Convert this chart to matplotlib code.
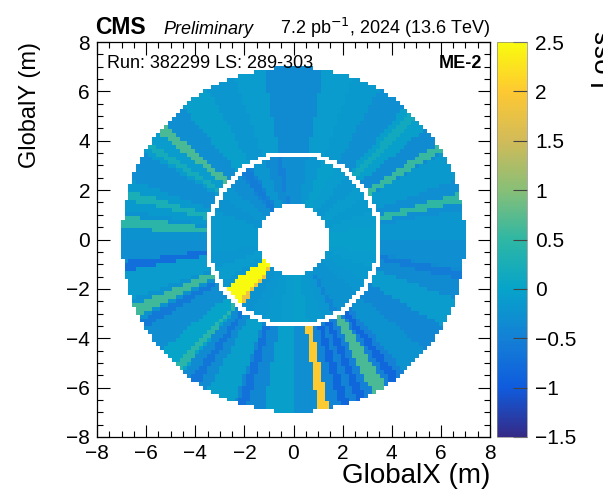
import numpy as np
import matplotlib
matplotlib.use("Agg")
import matplotlib.pyplot as plt
from matplotlib.colors import LinearSegmentedColormap
from matplotlib.ticker import MultipleLocator, FuncFormatter

plt.rcParams['font.family'] = ['Liberation Sans', 'DejaVu Sans']

# ROOT kBird palette
bird_stops = [0.0, 0.125, 0.25, 0.375, 0.5, 0.625, 0.75, 0.875, 1.0]
bird_r = [0.2082, 0.0592, 0.0780, 0.0232, 0.1802, 0.5301, 0.8186, 0.9956, 0.9764]
bird_g = [0.1664, 0.3599, 0.5041, 0.6419, 0.7178, 0.7492, 0.7328, 0.7862, 0.9832]
bird_b = [0.5293, 0.8684, 0.8385, 0.7914, 0.6425, 0.4662, 0.3499, 0.1968, 0.0539]
kbird = LinearSegmentedColormap.from_list(
    "kbird", list(zip(bird_stops, zip(bird_r, bird_g, bird_b))))

# station geometry (m)
r_hole = 1.45
r_split = 3.5
r_outer = 7.0

# loss per 10 deg phi sector, starting at phi = 0
outer_base = [-0.2, -0.3, -0.15, -0.35, -0.05, -0.3, -0.15, -0.1, -0.35,
              -0.35, -0.1, -0.2, -0.05, -0.3, -0.1, -0.3, -0.15, -0.25,
              -0.3, -0.1, -0.25, -0.3, 0.0, -0.35, -0.05, -0.4, -0.05,
              -0.3, -0.45, -0.5, -0.5, -0.25, -0.4, -0.1, -0.35, -0.3]
inner_base = [-0.05, -0.1, -0.15, -0.1, -0.2, -0.1, -0.05, -0.2, -0.3,
              -0.3, -0.35, -0.2, -0.45, -0.3, -0.2, -0.25, -0.15, -0.15,
              -0.15, -0.2, -0.1, -0.2, -0.2, -0.25, -0.2, -0.15, -0.1,
              -0.05, -0.15, -0.2, -0.25, -0.25, -0.2, -0.15, -0.1, -0.05]

# narrow strips on top of the sector level: centre phi, width (deg), loss
outer_strip_phi = [14, 32, 46, 140, 147, 165, 174, 189, 204, 209, 228,
                   235, 253, 280, 287, 293, 300, 306, 348]
outer_strip_width = [3, 3, 3, 3.5, 2.5, 3, 4, 3, 4, 3, 2.5,
                     3, 3, 3.5, 3, 3, 5, 3, 3]
outer_strip_loss = [0.5, 0.55, 0.15, 0.65, 0.2, 0.25, 0.45, -0.75, 0.6, -0.6, 0.45,
                    -0.65, -0.7, 2.0, -0.85, -0.85, 0.65, -0.85, -0.55]
inner_strip_phi = [222, 230.5, 125, 100, 300]
inner_strip_width = [14, 3, 6, 4, 4]
inner_strip_loss = [2.5, 1.8, -0.55, -0.5, -0.45]

# 100 x 100 binning over the transverse plane
edges = np.linspace(-8, 8, 101)
xc = 0.5 * (edges[:-1] + edges[1:])
X, Y = np.meshgrid(xc, xc)
r = np.hypot(X, Y)
phi = np.degrees(np.arctan2(Y, X)) % 360

XL, YL = np.meshgrid(edges[:-1], edges[:-1])
XH, YH = np.meshgrid(edges[1:], edges[1:])
corners = np.stack([np.hypot(XL, YL), np.hypot(XH, YL),
                    np.hypot(XL, YH), np.hypot(XH, YH)])
in_gap = (corners.min(axis=0) < r_split) & (corners.max(axis=0) > r_split)


def fill_ring(base, s_phi, s_width, s_loss):
    z = np.array(base)[(phi // 10).astype(int)]
    for p, w, v in zip(s_phi, s_width, s_loss):
        d = np.abs((phi - p + 180) % 360 - 180)
        z = np.where(d < w / 2, v, z)
    return z


z_in = fill_ring(inner_base, inner_strip_phi, inner_strip_width, inner_strip_loss)
z_out = fill_ring(outer_base, outer_strip_phi, outer_strip_width, outer_strip_loss)
Z = np.where(r < r_split, z_in, z_out)
Z = np.ma.masked_where((r < r_hole) | (r > r_outer) | in_gap, Z)

fig = plt.figure(figsize=(6.03, 4.96), dpi=100)
ax = fig.add_axes([97 / 603, 59 / 496, 393 / 603, 395 / 496])
cax = fig.add_axes([497 / 603, 59 / 496, 30 / 603, 395 / 496])

mesh = ax.pcolormesh(edges, edges, Z, cmap=kbird, vmin=-1.5, vmax=2.5)
ax.set_xlim(-8, 8)
ax.set_ylim(-8, 8)
ax.xaxis.set_major_locator(MultipleLocator(2))
ax.yaxis.set_major_locator(MultipleLocator(2))
ax.xaxis.set_minor_locator(MultipleLocator(0.5))
ax.yaxis.set_minor_locator(MultipleLocator(0.5))
ax.tick_params(which='both', direction='in', top=True, right=True,
               labelsize=15, width=0.8, pad=5)
ax.tick_params(which='major', length=9)
ax.tick_params(which='minor', length=4.5)
for s in ax.spines.values():
    s.set_linewidth(0.9)

ax.set_xlabel("GlobalX (m)", fontsize=20, loc='right', labelpad=0)
ax.set_ylabel("GlobalY (m)", fontsize=17, loc='top', labelpad=18)

cb = fig.colorbar(mesh, cax=cax)
cb.set_ticks(np.arange(-1.5, 2.51, 0.5))
cb.ax.yaxis.set_major_formatter(
    FuncFormatter(lambda v, _: ("%g" % v).replace("-", "\u2212")))
cb.ax.tick_params(direction='in', length=10, width=0.8, color='#444444',
                  labelsize=15, pad=6)
cb.outline.set_linewidth(0.5)
cb.outline.set_edgecolor('#888888')
fig.text(589 / 603, 1 - 28 / 496, "Loss", rotation=90, ha='left', va='top',
         fontsize=20)

# header and pad labels
fig.text(95 / 603, 1 - 34 / 496, "CMS", fontsize=16.5, fontweight='bold',
         ha='left', va='baseline')
fig.text(163 / 603, 1 - 34 / 496, "Preliminary", fontsize=13, style='italic',
         ha='left', va='baseline')
fig.text(490 / 603, 1 - 34 / 496, r"7.2 pb$^{-1}$, 2024 (13.6 TeV)",
         fontsize=13, ha='right', va='baseline')
ax.text(0.025, 0.945, "Run: 382299 LS: 289-303", transform=ax.transAxes,
        fontsize=13, ha='left', va='center')
ax.text(0.98, 0.945, "ME-2", transform=ax.transAxes, fontsize=13,
        fontweight='bold', ha='right', va='center')

fig.savefig("out.png", dpi=100)
